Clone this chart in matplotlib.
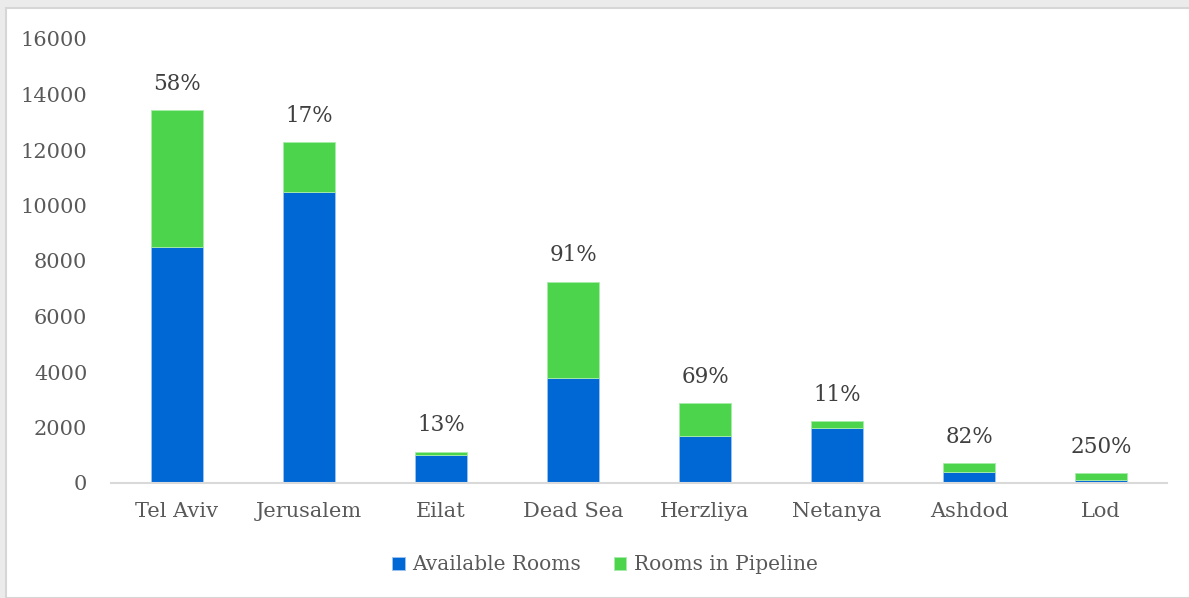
import matplotlib
matplotlib.use("Agg")
import matplotlib.pyplot as plt
import numpy as np
from matplotlib.patches import Rectangle

cities = ["Tel Aviv", "Jerusalem", "Eilat", "Dead Sea", "Herzliya", "Netanya", "Ashdod", "Lod"]
available = [8500, 10500, 1000, 3800, 1700, 2000, 400, 100]
pipeline = [4930, 1785, 130, 3460, 1173, 220, 328, 250]
pct_labels = ["58%", "17%", "13%", "91%", "69%", "11%", "82%", "250%"]

BLUE = "#0068d4"
GREEN = "#4cd44c"
TXT = "#595959"

plt.rcParams["font.family"] = ["DejaVu Serif"]

W, H = 1189, 598
fig = plt.figure(figsize=(W / 100, H / 100), dpi=100)
fig.patch.set_facecolor("#ebebeb")
fig.patches.append(Rectangle((6 / W, 0), 1.2, (H - 8) / H, transform=fig.transFigure,
                             facecolor="white", edgecolor="#d6d6d6", lw=1.5, zorder=-10))

ax = fig.add_axes([111 / W, 1 - 483 / H, (1167 - 111) / W, (483 - 39) / H])
ax.set_facecolor("none")
x = np.arange(len(cities))
b1 = ax.bar(x, available, width=0.4, color=BLUE, edgecolor="#9cc3f0", lw=0.6,
            label="Available Rooms", zorder=2)
b2 = ax.bar(x, pipeline, width=0.4, bottom=available, color=GREEN, edgecolor="#a8ecaa",
            lw=0.6, label="Rooms in Pipeline", zorder=2)

# percentage labels above each stack
tot = np.array(available) + np.array(pipeline)
for xi, t, lab in zip(x, tot, pct_labels):
    ax.annotate(lab, (xi, t), xytext=(0, 11), textcoords="offset points",
                ha="center", va="bottom", fontsize=15.5, color="#404040")

ax.set_xlim(-0.5, 7.5)
ax.set_ylim(0, 16000)
ax.set_yticks(range(0, 16001, 2000))
ax.set_xticks(x)
ax.set_xticklabels(cities)
ax.tick_params(axis="both", length=0, labelsize=15, labelcolor=TXT)
ax.tick_params(axis="x", pad=14)
ax.tick_params(axis="y", pad=17)
for s in ["top", "right", "left"]:
    ax.spines[s].set_visible(False)
ax.spines["bottom"].set_color("#d9d9d9")
ax.spines["bottom"].set_linewidth(1.5)

leg = fig.legend(handles=[b1, b2], loc="center", bbox_to_anchor=(605 / W, 1 - 565 / H),
                 ncol=2, frameon=False, fontsize=14.5, handlelength=0.6, handleheight=0.6,
                 columnspacing=1.6, handletextpad=0.4)
for t in leg.get_texts():
    t.set_color(TXT)

fig.savefig("out.png", dpi=100)
